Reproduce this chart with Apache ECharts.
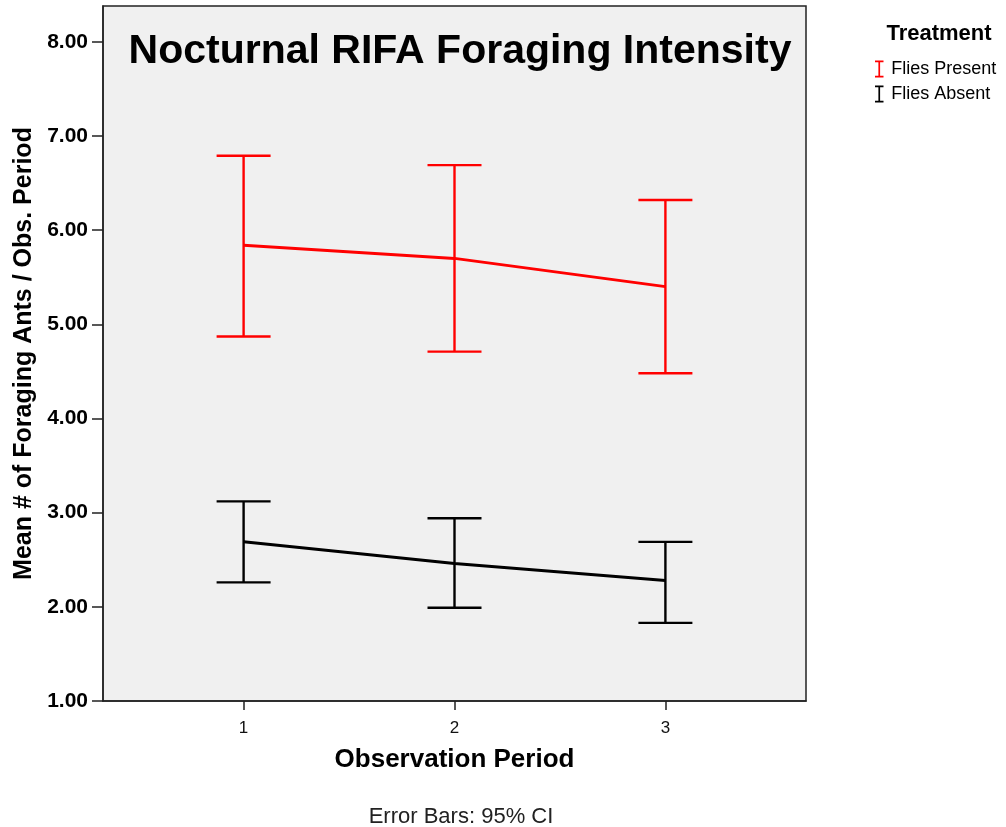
<!DOCTYPE html>
<html>
<head>
<meta charset="utf-8">
<script src="https://cdn.jsdelivr.net/npm/echarts@6/dist/echarts.min.js"></script>
<style>
  html, body { margin: 0; padding: 0; background: #fff; }
  #chart { width: 1006px; height: 827px; }
</style>
</head>
<body>
<div id="chart"></div>
<script>
const periods = [1, 2, 3];
const yTicks = [1, 2, 3, 4, 5, 6, 7, 8];

// Flies Present (red)
const presentMean = [5.84, 5.70, 5.40];
const presentLow = [4.87, 4.71, 4.48];
const presentHigh = [6.79, 6.69, 6.32];

// Flies Absent (black)
const absentMean = [2.69, 2.46, 2.28];
const absentLow = [2.26, 1.99, 1.83];
const absentHigh = [3.12, 2.94, 2.69];

const FONT = "Liberation Sans, Arial, sans-serif";
const ICON = "path://M0,0h10v2h-10z M4,2h2v16h-2z M0,18h10v2h-10z";

// error bar as custom series: vertical stem + two caps
function errorBars(name, color, low, high) {
  return {
    name: name,
    type: "custom",
    z: 3,
    data: periods.map((p, i) => [p, low[i], high[i]]),
    renderItem(params, api) {
      const lo = api.coord([api.value(0), api.value(1)]);
      const hi = api.coord([api.value(0), api.value(2)]);
      const half = 27;
      const style = { stroke: color, lineWidth: 2.4 };
      return {
        type: "group",
        children: [
          { type: "line", shape: { x1: lo[0], y1: lo[1], x2: hi[0], y2: hi[1] }, style },
          { type: "line", shape: { x1: lo[0] - half, y1: lo[1], x2: lo[0] + half, y2: lo[1] }, style },
          { type: "line", shape: { x1: hi[0] - half, y1: hi[1], x2: hi[0] + half, y2: hi[1] }, style }
        ]
      };
    }
  };
}

function meanLine(name, color, values) {
  return {
    name: name,
    type: "line",
    z: 4,
    symbol: "none",
    silent: true,
    data: periods.map((p, i) => [p, values[i]]),
    lineStyle: { color: color, width: 3 },
    itemStyle: { color: color }
  };
}

const chart = echarts.init(document.getElementById("chart"));

chart.setOption({
  animation: false,
  backgroundColor: "#ffffff",
  textStyle: { fontFamily: FONT },
  title: [
    {
      text: "Nocturnal RIFA Foraging Intensity",
      left: 455, top: 26, textAlign: "center",
      textStyle: { fontSize: 41, fontWeight: "bold", color: "#000", fontFamily: FONT }
    },
    {
      text: "Treatment",
      left: 934, top: 18, textAlign: "center",
      textStyle: { fontSize: 22, fontWeight: "bold", color: "#000", fontFamily: FONT }
    },
    {
      text: "Error Bars: 95% CI",
      left: 456, top: 801, textAlign: "center",
      textStyle: { fontSize: 22, fontWeight: "normal", color: "#222", fontFamily: FONT }
    }
  ],
  legend: {
    orient: "vertical",
    left: 870, top: 55,
    itemWidth: 12, itemHeight: 17,
    itemGap: 7,
    icon: ICON,
    textStyle: { fontSize: 18, color: "#000", fontFamily: FONT, padding: [0, 0, 0, 1] },
    data: [
      { name: "Flies Present", itemStyle: { color: "#ff0000" } },
      { name: "Flies Absent", itemStyle: { color: "#000000" } }
    ]
  },
  grid: {
    left: 103, right: 200, top: 6, bottom: 126,
    show: true,
    backgroundColor: "#f0f0f0",
    borderColor: "#222",
    borderWidth: 1.5
  },
  xAxis: {
    type: "value",
    min: 1 / 3,
    max: 11 / 3,
    name: "Observation Period",
    nameLocation: "middle",
    nameGap: 46,
    nameTextStyle: { fontSize: 26, fontWeight: "bold", color: "#000", fontFamily: FONT },
    splitLine: { show: false },
    axisLine: { lineStyle: { color: "#222", width: 1.5 } },
    axisTick: { customValues: periods, length: 9, lineStyle: { color: "#222", width: 1.5 } },
    axisLabel: {
      customValues: periods,
      margin: 19,
      fontSize: 17,
      color: "#111",
      fontFamily: FONT
    }
  },
  yAxis: {
    type: "value",
    min: 1,
    max: 8.38,
    name: "Mean # of Foraging Ants / Obs. Period",
    nameLocation: "middle",
    nameGap: 65,
    nameTextStyle: { fontSize: 25, fontWeight: "bold", color: "#000", fontFamily: FONT },
    splitLine: { show: false },
    axisLine: { lineStyle: { color: "#222", width: 1.5 } },
    axisTick: { customValues: yTicks, length: 11, lineStyle: { color: "#222", width: 1.5 } },
    axisLabel: {
      customValues: yTicks,
      margin: 15,
      fontSize: 21,
      fontWeight: "bold",
      color: "#000",
      fontFamily: FONT,
      formatter: v => v.toFixed(2)
    }
  },
  series: [
    errorBars("Flies Present", "#ff0000", presentLow, presentHigh),
    meanLine("Flies Present", "#ff0000", presentMean),
    errorBars("Flies Absent", "#000000", absentLow, absentHigh),
    meanLine("Flies Absent", "#000000", absentMean)
  ]
});
</script>
</body>
</html>
